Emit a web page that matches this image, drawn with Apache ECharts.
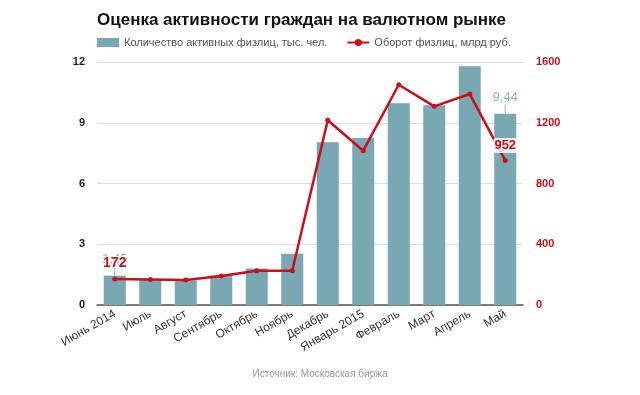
<!DOCTYPE html>
<html><head><meta charset="utf-8">
<script src="https://cdn.jsdelivr.net/npm/echarts@6/dist/echarts.min.js"></script>
<style>html,body{margin:0;padding:0;background:#fff}#c{width:640px;height:395px}</style>
</head><body><div id="c"></div>
<script>
const categories = ['Июнь 2014','Июль','Август','Сентябрь','Октябрь','Ноябрь','Декабрь','Январь 2015','Февраль','Март','Апрель','Май'];
const activeClients = [1.45, 1.25, 1.22, 1.46, 1.8, 2.53, 8.04, 8.25, 9.96, 9.87, 11.79, 9.44];
const turnover = [172, 168, 164, 191, 226, 225, 1216, 1016, 1450, 1308, 1389, 952];
const leftTicks = [0, 3, 6, 9, 12];
const rightTicks = [0, 400, 800, 1200, 1600];
const labelledIdx = [0, 11];

const FONT = '"Liberation Sans", Arial, sans-serif';
const RED = '#c8101a';
const BAR = '#79a7b2';

const barData = activeClients.map((v, i) => labelledIdx.includes(i) ? {
  value: v,
  label: {show: true, position: 'top', distance: 0, fontFamily: FONT,
    formatter: p => '{v|' + String(p.value).replace('.', ',') + '}\n{l|}',
    rich: {
      v: {color: '#8eb0bd', fontSize: 13, fontFamily: FONT, lineHeight: 15, align: 'center'},
      l: {width: 1, height: 9, backgroundColor: '#9aabb2', align: 'center'}
    }}
} : v);

const lineData = turnover.map((v, i) => labelledIdx.includes(i) ? {
  value: v,
  label: i === 0 ? {show: true, position: 'top', distance: 6, color: RED, fontSize: 14, fontWeight: 'bold', fontFamily: FONT,
      textBorderColor: '#fff', textBorderWidth: 2}
    : {show: true, position: 'top', distance: 5, color: RED, fontSize: 13, fontWeight: 'bold', fontFamily: FONT,
      backgroundColor: 'rgba(255,255,255,0.85)', padding: [1, 1], borderRadius: 2}
} : v);

const chart = echarts.init(document.getElementById('c'), null, {renderer: 'canvas'});
chart.setOption({
  animation: false,
  title: [
    {text: 'Оценка активности граждан на валютном рынке', left: 92, top: 7,
     textStyle: {fontFamily: FONT, fontSize: 17, fontWeight: 'bold', color: '#111'}},
    {text: 'Источник: Московская биржа', left: 'center', top: 364,
     textStyle: {fontFamily: FONT, fontSize: 10, fontWeight: 'normal', color: '#999'}}
  ],
  legend: {
    left: 92, top: 32, itemWidth: 22, itemHeight: 9, itemGap: 19,
    textStyle: {fontFamily: FONT, fontSize: 11, color: '#555'},
    data: [
      {name: 'Количество активных физлиц, тыс. чел.', icon: 'rect'},
      {name: 'Оборот физлиц, млрд руб.'}
    ]
  },
  grid: {left: 97, right: 117, top: 62, bottom: 90},
  xAxis: {
    type: 'category', data: categories,
    axisLine: {lineStyle: {color: '#555', width: 1.5}},
    axisTick: {show: false},
    axisLabel: {interval: 0, rotate: 30, color: '#333', fontSize: 12, fontFamily: FONT, margin: 8}
  },
  yAxis: [
    {type: 'value', min: leftTicks[0], max: leftTicks[leftTicks.length - 1], interval: leftTicks[1] - leftTicks[0],
     axisLine: {show: false}, axisTick: {show: false},
     axisLabel: {color: '#222', fontWeight: 'bold', fontSize: 11, fontFamily: FONT, margin: 12},
     splitLine: {lineStyle: {color: '#ddd'}}},
    {type: 'value', min: rightTicks[0], max: rightTicks[rightTicks.length - 1], interval: rightTicks[1] - rightTicks[0],
     axisLine: {show: false}, axisTick: {show: false},
     axisLabel: {color: RED, fontWeight: 'bold', fontSize: 11, fontFamily: FONT, margin: 13, formatter: v => String(v)},
     splitLine: {show: false}}
  ],
  series: [
    {name: 'Количество активных физлиц, тыс. чел.', type: 'bar', data: barData, barWidth: 22,
     itemStyle: {color: BAR}, z: 2},
    {name: 'Оборот физлиц, млрд руб.', type: 'line', yAxisIndex: 1, data: lineData,
     symbol: 'circle', symbolSize: 5, lineStyle: {color: RED, width: 2.5}, itemStyle: {color: RED}, z: 5}
  ]
});
</script></body></html>
